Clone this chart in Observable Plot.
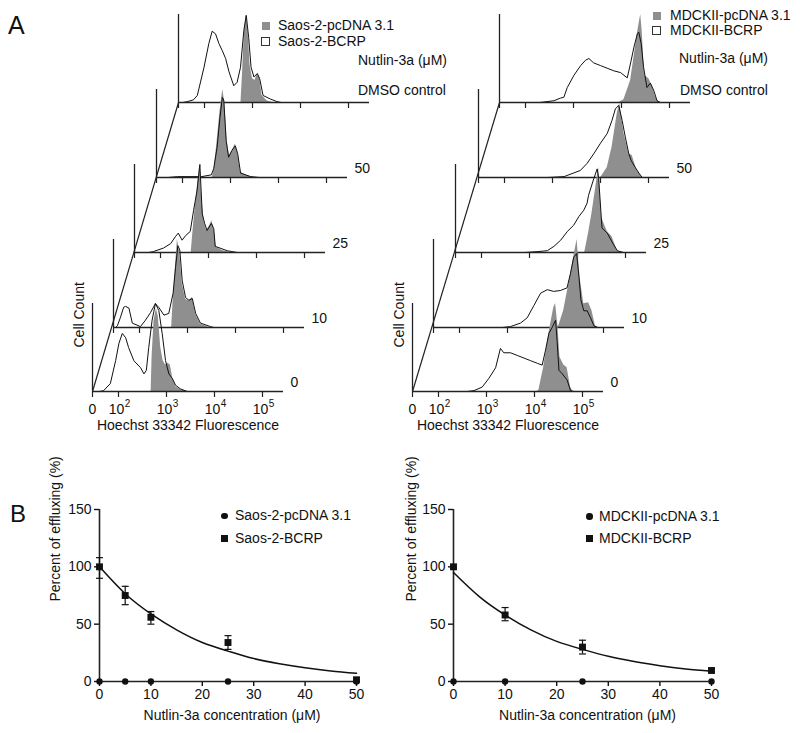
<!DOCTYPE html>
<html><head><meta charset="utf-8">
<script src="https://cdn.jsdelivr.net/npm/d3@7"></script>
<script src="https://cdn.jsdelivr.net/npm/@observablehq/plot@0.6"></script>
<style>
body{margin:0;background:#fff;}
#fig{position:relative;width:800px;height:733px;overflow:hidden;background:#fff;font-family:"Liberation Sans",Arial,Helvetica,sans-serif;color:#111;}
</style></head><body><div id="fig"></div>
<script>
// ---------------- DATA ----------------
// Panel A: histograms, points are [log10(Hoechst fluorescence), relative cell count (%)]
const concLabels = ["0", "10", "25", "50", ""]; // bottom to top; top = DMSO control
const fluoTickValues = [0, 1e2, 1e3, 1e4, 1e5];
const fluoTickBase = ["0", "10", "10", "10", "10"];
const fluoTickExp = ["", "2", "3", "4", "5"];

const saosPc0 = [[2.68,0],[2.70,40],[2.74,80],[2.79,94],[2.83,85],[2.88,50],[2.93,35],[2.98,30],[3.03,32],[3.08,30],[3.13,15],[3.20,5],[3.30,2],[3.45,0]];
const saosBcrp0 = [[1.60,0],[1.69,1],[1.83,9],[1.94,35],[2.01,55],[2.08,66],[2.15,61],[2.21,50],[2.32,35],[2.46,27],[2.53,20],[2.58,24],[2.63,50],[2.70,81],[2.77,100],[2.84,92],[2.91,66],[2.98,35],[3.05,20],[3.12,15],[3.19,7],[3.29,3],[3.43,0]];
const saosPc10 = [[2.67,0],[2.70,30],[2.75,70],[2.79,100],[2.84,85],[2.89,50],[2.96,32],[3.03,30],[3.10,34],[3.17,15],[3.27,4],[3.45,0]];
const saosBcrp10 = [[1.50,0],[1.54,2],[1.60,11],[1.67,23],[1.71,24],[1.78,22],[1.85,5],[2.02,1],[2.12,8],[2.23,17],[2.33,27],[2.40,23],[2.51,14],[2.61,16],[2.70,39],[2.75,68],[2.80,93],[2.84,88],[2.89,53],[2.96,34],[3.03,31],[3.10,33],[3.17,16],[3.27,5],[3.48,1],[3.55,0]];
const saosPc25 = [[2.64,0],[2.67,20],[2.72,50],[2.78,80],[2.82,100],[2.86,60],[2.91,35],[2.96,25],[3.02,30],[3.07,36],[3.12,25],[3.16,6],[3.30,2],[3.45,0]];
const saosBcrp25 = [[1.75,0],[1.85,1],[2.06,5],[2.21,10],[2.31,18],[2.37,22],[2.45,14],[2.52,19],[2.62,24],[2.69,48],[2.76,70],[2.82,100],[2.87,44],[2.92,33],[2.97,25],[3.06,33],[3.11,27],[3.14,7],[3.39,2],[3.60,0]];
const saosPc50 = [[2.62,0],[2.66,10],[2.72,40],[2.78,75],[2.84,100],[2.88,85],[2.93,40],[2.98,25],[3.04,30],[3.10,38],[3.15,28],[3.21,6],[3.35,2],[3.50,0]];
const saosBcrp50 = [[1.70,0],[1.90,1],[2.40,1],[2.60,3],[2.65,10],[2.72,34],[2.78,68],[2.83,91],[2.86,88],[2.91,42],[2.96,23],[3.03,31],[3.10,36],[3.15,27],[3.21,5],[3.42,1],[3.60,0]];
const saosPcDmso = [[2.76,0],[2.79,30],[2.83,80],[2.87,100],[2.91,80],[2.95,42],[3.00,27],[3.05,25],[3.10,32],[3.15,28],[3.20,8],[3.30,2],[3.42,0]];
const saosBcrpDmso = [[1.55,0],[1.64,1],[1.77,3],[1.85,8],[1.99,40],[2.09,67],[2.16,81],[2.23,78],[2.30,67],[2.37,59],[2.44,50],[2.51,35],[2.61,19],[2.68,23],[2.75,40],[2.82,82],[2.87,99],[2.92,74],[2.97,40],[3.03,29],[3.10,33],[3.15,27],[3.22,8],[3.37,4],[3.51,1],[3.60,0]];

const mdckPc0 = [[4.05,0],[4.09,1],[4.19,27],[4.30,66],[4.40,95],[4.44,100],[4.49,73],[4.53,39],[4.61,30],[4.68,27],[4.75,5],[4.80,0]];
const mdckBcrp0 = [[2.60,0],[2.74,1],[2.91,5],[3.05,15],[3.19,27],[3.29,49],[3.36,44],[3.50,44],[3.64,41],[3.78,38],[3.92,35],[4.06,32],[4.16,30],[4.23,47],[4.30,66],[4.37,73],[4.44,81],[4.47,58],[4.51,24],[4.58,20],[4.68,13],[4.75,1],[4.82,0]];
const mdckPc10 = [[4.00,0],[4.07,2],[4.17,19],[4.28,50],[4.38,80],[4.45,100],[4.51,57],[4.59,27],[4.69,28],[4.76,19],[4.83,2],[4.90,0]];
const mdckBcrp10 = [[2.90,0],[3.06,1],[3.27,5],[3.41,11],[3.55,25],[3.69,39],[3.83,43],[3.96,41],[4.10,42],[4.24,45],[4.31,61],[4.38,80],[4.44,84],[4.49,57],[4.53,31],[4.59,19],[4.66,19],[4.73,11],[4.80,2],[4.87,0]];
const mdckPc25 = [[4.15,0],[4.23,22],[4.30,44],[4.37,70],[4.44,97],[4.50,40],[4.62,24],[4.72,18],[4.83,2],[4.90,0]];
const mdckBcrp25 = [[2.90,0],[3.16,1],[3.37,2],[3.51,7],[3.65,14],[3.79,24],[3.92,31],[4.03,41],[4.13,48],[4.20,56],[4.23,65],[4.34,84],[4.41,95],[4.44,85],[4.51,28],[4.62,22],[4.72,12],[4.83,2],[4.96,0]];
const mdckPc50 = [[4.00,0],[4.03,2],[4.14,11],[4.24,34],[4.35,73],[4.40,84],[4.49,50],[4.59,27],[4.66,25],[4.76,8],[4.87,0]];
const mdckBcrp50 = [[2.90,0],[3.24,1],[3.58,8],[3.72,16],[3.86,27],[4.00,39],[4.14,50],[4.24,65],[4.31,78],[4.38,82],[4.45,65],[4.52,45],[4.59,27],[4.64,19],[4.73,11],[4.80,5],[4.87,0]];
const mdckPcDmso = [[3.95,0],[4.05,3],[4.12,14],[4.19,25],[4.26,51],[4.33,78],[4.40,100],[4.43,82],[4.48,31],[4.57,27],[4.64,19],[4.71,6],[4.78,0]];
const mdckBcrpDmso = [[2.30,0],[2.59,2],[2.73,5],[2.80,6],[2.87,17],[3.01,31],[3.15,42],[3.25,48],[3.32,50],[3.42,45],[3.56,42],[3.70,39],[3.84,36],[3.98,34],[4.12,28],[4.19,45],[4.26,63],[4.33,78],[4.36,80],[4.41,67],[4.46,40],[4.53,17],[4.60,22],[4.67,14],[4.74,2],[4.81,0]];

// Panel B: percent of effluxing
const saosConc = [0, 5, 10, 25, 50];
const saosPcdnaEfflux = [0, 0, 0, 0, 0];
const saosBcrpEfflux = [100, 75, 56, 34, 1.5];
const saosBcrpLow = [90, 67, 50, 28, 1.5];
const saosBcrpHigh = [108, 83, 61, 40, 1.5];
const fitConc = [0, 5, 10, 15, 20, 25, 30, 35, 40, 45, 50];
const saosFit = [100, 76.5, 59, 45, 34, 26.5, 20, 15.5, 12, 9.2, 7.2];

const mdckConc = [0, 10, 25, 50];
const mdckPcdnaEfflux = [0, 0, 0, 0];
const mdckBcrpEfflux = [100, 58, 30, 9.6];
const mdckBcrpLow = [99, 53, 24, 9.6];
const mdckBcrpHigh = [102, 64.5, 36, 9.6];
const mdckFit = [95, 74, 58, 45, 35, 28, 22, 17.5, 13.8, 11, 9];

const xTicksB = [0, 10, 20, 30, 40, 50];
const yTicksB = [0, 50, 100, 150];

// ---------------- LAYOUT / STYLE ----------------
const FONT = '"Liberation Sans", Arial, Helvetica, sans-serif';
const GREY = "#8f8f8f";
const AX = "#222";
const PX_DEC = 48, PW = 191, PH = 88;
const L0 = 2 - 26 / PX_DEC;      // position of "0" on the biexponential axis
const L1 = L0 + PW / PX_DEC;
const tickPos = v => v === 0 ? L0 : Math.log10(v);
const leftOrigins = [[92,391],[113,327],[134,252],[156,177],[178,102]];
const rightOrigins = [[412,391],[433,327],[455,252],[478,177],[499,102]];

const fig = document.getElementById("fig");
function place(node, left, top) {
  node.style.position = "absolute";
  node.style.left = left + "px";
  node.style.top = top + "px";
  fig.appendChild(node);
}
function label(text, x, y, size = 14, anchor = "start") {
  const d = document.createElement("div");
  d.textContent = text;
  d.style.cssText = `position:absolute;left:${x}px;top:${y}px;font-size:${size}px;line-height:1;white-space:nowrap;transform:translate(${anchor === "middle" ? "-50%" : "0"},-50%);`;
  fig.appendChild(d);
}
function swatch(cx, cy, size, css) {
  const d = document.createElement("div");
  d.style.cssText = `position:absolute;box-sizing:border-box;left:${cx - size / 2}px;top:${cy - size / 2}px;width:${size}px;height:${size}px;${css}`;
  fig.appendChild(d);
}
const svgStyle = {background: "transparent", overflow: "visible", fontFamily: FONT, fontSize: "14px", color: "#111"};

function histPanel(pc, bc, conc, origin, bottom, topOrigin) {
  const [ox, oy] = origin;
  const mL = 30, mR = 50, mT = 3, mB = bottom ? 46 : 10;
  const marks = [
    Plot.areaY(pc, {x: d => d[0], y: d => d[1], fill: GREY}),
    Plot.line(bc, {x: d => d[0], y: d => d[1], stroke: "#111", strokeWidth: 1}),
    Plot.ruleY([0], {stroke: AX, strokeWidth: 1.3}),
    Plot.ruleX([L0], {y1: 0, y2: 100, stroke: AX, strokeWidth: 1.3}),
    Plot.ruleX(fluoTickValues, {x: tickPos, y1: 0, y2: 0, insetBottom: -6, stroke: AX, strokeWidth: 1.2})
  ];
  if (conc) marks.push(Plot.text([conc], {frameAnchor: "bottom-right", dx: 7, dy: -9, textAnchor: "start", lineAnchor: "middle", fontSize: 14}));
  if (bottom) {
    const zeroTick = fluoTickValues.filter((d, i) => !fluoTickExp[i]);
    const expTicks = fluoTickValues.filter((d, i) => fluoTickExp[i]);
    const idx = d => fluoTickValues.indexOf(d);
    marks.push(
      Plot.text(zeroTick, {x: tickPos, text: d => fluoTickBase[idx(d)], frameAnchor: "bottom", dy: 18, lineAnchor: "middle", fontSize: 14}),
      Plot.text(expTicks, {x: tickPos, text: d => fluoTickBase[idx(d)], frameAnchor: "bottom", dx: -2, dy: 18, lineAnchor: "middle", fontSize: 14}),
      Plot.text(expTicks, {x: tickPos, text: d => fluoTickExp[idx(d)], frameAnchor: "bottom", dx: 9, dy: 12, lineAnchor: "middle", fontSize: 10}),
      Plot.text(["Hoechst 33342 Fluorescence"], {frameAnchor: "bottom", dy: 34, lineAnchor: "middle", fontSize: 14}),
      Plot.text(["Cell Count"], {frameAnchor: "left", dx: -13, rotate: -90, lineAnchor: "middle", fontSize: 14}),
      Plot.link([0], {x1: L0, y1: 0, x2: L0 + (topOrigin[0] - ox) / PX_DEC, y2: (oy - topOrigin[1]) / PH * 100, stroke: AX, strokeWidth: 1.2})
    );
  }
  const svg = Plot.plot({
    width: mL + PW + mR, height: mT + PH + mB,
    marginLeft: mL, marginRight: mR, marginTop: mT, marginBottom: mB,
    x: {domain: [L0, L1], axis: null},
    y: {domain: [0, 100], axis: null},
    style: svgStyle,
    marks
  });
  place(svg, ox - mL, oy - PH - mT);
}

function stack(pcs, bcs, origins) {
  for (let i = 4; i >= 0; --i) {
    histPanel(pcs[i], bcs[i], concLabels[i], origins[i], i === 0, origins[4]);
  }
}

stack([saosPc0, saosPc10, saosPc25, saosPc50, saosPcDmso],
      [saosBcrp0, saosBcrp10, saosBcrp25, saosBcrp50, saosBcrpDmso], leftOrigins);
stack([mdckPc0, mdckPc10, mdckPc25, mdckPc50, mdckPcDmso],
      [mdckBcrp0, mdckBcrp10, mdckBcrp25, mdckBcrp50, mdckBcrpDmso], rightOrigins);

// Panel A texts
label("A", 8, 25, 25);
swatch(265.5, 25.5, 8, `background:${GREY};`);
label("Saos-2-pcDNA 3.1", 278, 25);
swatch(265.5, 41.5, 9, "border:1px solid #333;background:#fff;");
label("Saos-2-BCRP", 278, 40.5);
label("Nutlin-3a (μM)", 358, 60);
label("DMSO control", 358, 89.5);
swatch(656.5, 15.5, 8, `background:${GREY};`);
label("MDCKII-pcDNA 3.1", 670, 15);
swatch(656.5, 30.5, 9, "border:1px solid #333;background:#fff;");
label("MDCKII-BCRP", 670, 30);
label("Nutlin-3a (μM)", 679, 58);
label("DMSO control", 680, 90);

// ---------------- PANEL B ----------------
const capSymbol = {draw(ctx) { ctx.moveTo(-3.5, 0); ctx.lineTo(3.5, 0); }};
function effluxChart(conc, pc, bc, lo, hi, fit, m, left, dxX, dxY) {
  const pts = conc.map((c, i) => ({c, pc: pc[i], bc: bc[i], lo: lo[i], hi: hi[i]}));
  const errs = pts.filter(d => d.hi > d.lo);
  const curve = fitConc.map((c, i) => ({c, v: fit[i]}));
  const svg = Plot.plot({
    width: 400, height: 253,
    marginLeft: m[0], marginRight: m[1], marginTop: 29, marginBottom: 52,
    x: {domain: [0, 50]},
    y: {domain: [0, 150]},
    style: svgStyle,
    marks: [
      Plot.axisX({ticks: xTicksB, tickSize: 5, tickPadding: 3, label: null, strokeWidth: 1.4, fontSize: 14}),
      Plot.axisY({ticks: yTicksB, tickSize: 5, tickPadding: 3, label: null, strokeWidth: 1.4, fontSize: 14}),
      Plot.ruleX([0], {stroke: AX, strokeWidth: 1.6}),
      Plot.ruleY([0], {stroke: AX, strokeWidth: 1.6}),
      Plot.line(curve, {x: "c", y: "v", curve: "natural", stroke: "#111", strokeWidth: 1.5}),
      Plot.ruleX(errs, {x: "c", y1: "lo", y2: "hi", stroke: "#111", strokeWidth: 1.2}),
      Plot.dot(errs, {x: "c", y: "lo", symbol: capSymbol, fill: "none", stroke: "#111", strokeWidth: 1.2}),
      Plot.dot(errs, {x: "c", y: "hi", symbol: capSymbol, fill: "none", stroke: "#111", strokeWidth: 1.2}),
      Plot.dot(pts, {x: "c", y: "pc", symbol: "circle", r: 3.2, fill: "#111"}),
      Plot.dot(pts, {x: "c", y: "bc", symbol: "square", r: 3.9, fill: "#111"}),
      Plot.text(["Nutlin-3a concentration (μM)"], {frameAnchor: "bottom", dx: dxX, dy: 34, lineAnchor: "middle", fontSize: 14}),
      Plot.text(["Percent of effluxing (%)"], {frameAnchor: "left", dx: dxY, dy: 6, rotate: -90, lineAnchor: "middle", fontSize: 14})
    ]
  });
  place(svg, left, 480);
}
effluxChart(saosConc, saosPcdnaEfflux, saosBcrpEfflux, saosBcrpLow, saosBcrpHigh, saosFit, [99, 44], 0, 4, -44);
effluxChart(mdckConc, mdckPcdnaEfflux, mdckBcrpEfflux, mdckBcrpLow, mdckBcrpHigh, mdckFit, [53, 89], 400, 5, -42);

label("B", 10, 513.5, 24);
swatch(224.5, 516, 6.5, "background:#111;border-radius:50%;");
label("Saos-2-pcDNA 3.1", 235, 515);
swatch(224.5, 538.5, 7, "background:#111;");
label("Saos-2-BCRP", 235, 538);
swatch(589.5, 516.5, 6.5, "background:#111;border-radius:50%;");
label("MDCKII-pcDNA 3.1", 599, 516);
swatch(589.5, 538.5, 7, "background:#111;");
label("MDCKII-BCRP", 599, 538);
</script></body></html>
